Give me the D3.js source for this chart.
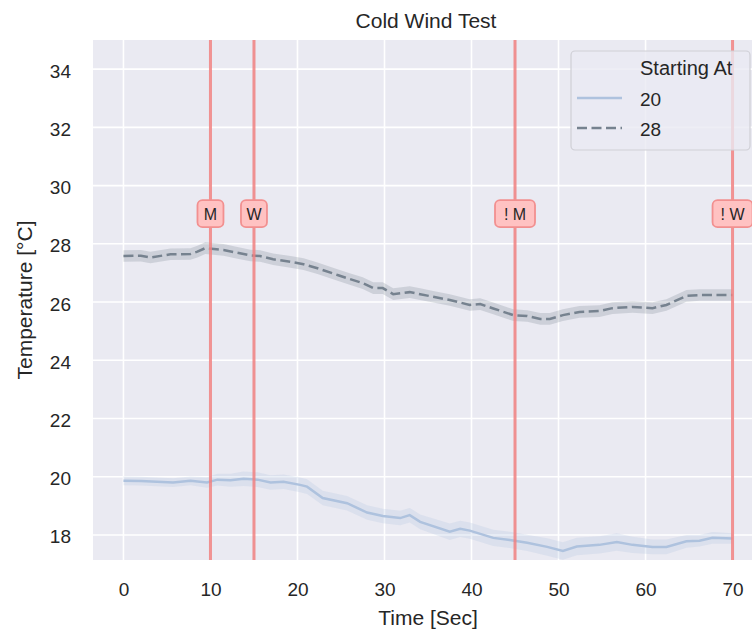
<!DOCTYPE html>
<html>
<head>
<meta charset="utf-8">
<script src="https://cdn.jsdelivr.net/npm/d3@7"></script>
<style>
  body { margin: 0; background: #fff; }
  text { font-family: "Liberation Sans", Arial, sans-serif; fill: #262626; }
</style>
</head>
<body>
<div id="chart"></div>
<script>
// series starting at 28
const time28 = [0, 2, 3.1, 5.4, 7.7, 8.5, 9.4, 11.5, 13.1, 14.6, 15.7, 17.2, 19.2, 20.7, 22.3, 24.6, 26, 27.5, 28.7, 29.8, 31, 32.9,
  34.1, 35.6, 37.5, 39.8, 41, 42.5, 44.1, 44.8, 46.4, 47.9, 49, 50.5, 52.4, 54.7, 56.2, 58.5, 60.8, 62.4, 64.7, 66.2, 70];
const temp28 = [27.58, 27.59, 27.53, 27.64, 27.65, 27.73, 27.85, 27.79, 27.69, 27.6, 27.58, 27.47, 27.38, 27.3, 27.16, 26.93, 26.79, 26.65, 26.48, 26.48, 26.27, 26.34,
  26.27, 26.18, 26.07, 25.9, 25.93, 25.78, 25.62, 25.55, 25.52, 25.42, 25.42, 25.55, 25.66, 25.69, 25.79, 25.83, 25.79, 25.9, 26.21, 26.24, 26.24];
const ci28 = 0.2;

// series starting at 20
const time20 = [0, 2, 5.7, 7.7, 9.6, 10.8, 12.3, 13.8, 15.4, 16.9, 18.4, 20.3, 21.1, 22.9, 25.7, 28, 29.8, 31.8, 32.9, 34.1,
  37.5, 38.7, 39.8, 42.5, 44.4, 46.4, 48.7, 50.5, 52.1, 54.7, 56.7, 58.5, 60.8, 62.4, 64.7, 66.2, 67.7, 70];
const temp20 = [19.86, 19.85, 19.8, 19.86, 19.8, 19.9, 19.88, 19.93, 19.9, 19.8, 19.83, 19.72, 19.66, 19.27, 19.09, 18.77, 18.65, 18.58, 18.68, 18.45,
  18.11, 18.21, 18.15, 17.9, 17.83, 17.73, 17.59, 17.45, 17.6, 17.66, 17.76, 17.66, 17.59, 17.59, 17.78, 17.8, 17.9, 17.88];
const ci20 = [0.15, 0.15, 0.15, 0.15, 0.18, 0.2, 0.22, 0.25, 0.25, 0.25, 0.25, 0.25, 0.25, 0.25, 0.25, 0.25, 0.25, 0.25, 0.25, 0.25,
  0.28, 0.28, 0.28, 0.28, 0.28, 0.28, 0.3, 0.3, 0.3, 0.3, 0.3, 0.28, 0.25, 0.25, 0.22, 0.2, 0.2, 0.18];

const markTimes = [10, 15, 45, 70];
const markLabels = ["M", "W", "! M", "! W"];
const markLevel = 29;

const xTicks = [0, 10, 20, 30, 40, 50, 60, 70];
const yTicks = [18, 20, 22, 24, 26, 28, 30, 32, 34];

const W = 752, H = 632;
const plot = { left: 93, right: 763, top: 40, bottom: 560 };

const svg = d3.select("#chart").append("svg").attr("width", W).attr("height", H);

const x = d3.scaleLinear().domain([-3.5, 73.5]).range([plot.left, plot.right]);
const y = d3.scaleLinear().domain([17.14, 35]).range([plot.bottom, plot.top]);

svg.append("defs").append("clipPath").attr("id", "clip")
  .append("rect").attr("x", plot.left).attr("y", plot.top)
  .attr("width", plot.right - plot.left).attr("height", plot.bottom - plot.top);

svg.append("rect").attr("x", plot.left).attr("y", plot.top)
  .attr("width", plot.right - plot.left).attr("height", plot.bottom - plot.top)
  .attr("fill", "#eaeaf2");

//grid
const g = svg.append("g").attr("clip-path", "url(#clip)");
g.selectAll(".gx").data(xTicks).join("line")
  .attr("x1", d => x(d)).attr("x2", d => x(d))
  .attr("y1", plot.top).attr("y2", plot.bottom)
  .attr("stroke", "#fff").attr("stroke-width", 1.6);
g.selectAll(".gy").data(yTicks).join("line")
  .attr("x1", plot.left).attr("x2", plot.right)
  .attr("y1", d => y(d)).attr("y2", d => y(d))
  .attr("stroke", "#fff").attr("stroke-width", 1.6);

// axes
const xAxis = svg.append("g").attr("transform", `translate(0,${plot.bottom})`)
  .call(d3.axisBottom(x).tickValues(xTicks).tickSize(0).tickPadding(24));
const yAxis = svg.append("g").attr("transform", `translate(${plot.left},0)`)
  .call(d3.axisLeft(y).tickValues(yTicks).tickSize(0).tickPadding(22));
[xAxis, yAxis].forEach(a => {
  a.select(".domain").remove();
  a.selectAll("text").attr("font-size", 19).attr("font-family", "Liberation Sans, Arial, sans-serif").attr("fill", "#262626");
});
xAxis.selectAll("text").attr("dy", "0.62em");
yAxis.selectAll("text").attr("dy", "0.42em");

// bands and lines
const series = [
  { t: time20, v: temp20, ci: (i) => ci20[i], color: "#aec2de", dash: null, width: 2.5 },
  { t: time28, v: temp28, ci: () => ci28, color: "#76828f", dash: "10,4.5", width: 2.5 }
];
series.forEach(s => {
  const pts = s.t.map((t, i) => ({ t, v: s.v[i], c: s.ci(i) }));
  g.append("path").datum(pts)
    .attr("d", d3.area().x(d => x(d.t)).y0(d => y(d.v - d.c)).y1(d => y(d.v + d.c)))
    .attr("fill", s.color).attr("opacity", 0.25);
  g.append("path").datum(pts)
    .attr("d", d3.line().x(d => x(d.t)).y(d => y(d.v)))
    .attr("fill", "none").attr("stroke", s.color)
    .attr("stroke-width", s.width).attr("stroke-dasharray", s.dash);
});

// event markers
g.selectAll(".vl").data(markTimes).join("line")
  .attr("x1", d => x(d)).attr("x2", d => x(d))
  .attr("y1", plot.top).attr("y2", plot.bottom)
  .attr("stroke", "#f08080").attr("stroke-opacity", 0.85).attr("stroke-width", 3);

markTimes.forEach((t, i) => {
  const lbl = markLabels[i];
  const bw = lbl.length > 1 ? 40 : 26;
  const cx = x(t), cy = y(markLevel) - 1;
  svg.append("rect").attr("x", cx - bw / 2).attr("y", cy - 13.5)
    .attr("width", bw).attr("height", 27).attr("rx", 5)
    .attr("fill", "#ffc2c2").attr("stroke", "#f29090").attr("stroke-width", 1.8);
  svg.append("text").attr("x", cx).attr("y", cy + 6)
    .attr("text-anchor", "middle").attr("font-size", 16).text(lbl);
});

// title and labels
svg.append("text").attr("x", (plot.left + plot.right) / 2 - 2).attr("y", 28)
  .attr("text-anchor", "middle").attr("font-size", 21).text("Cold Wind Test");
svg.append("text").attr("x", (plot.left + plot.right) / 2).attr("y", 625)
  .attr("text-anchor", "middle").attr("font-size", 21).text("Time [Sec]");
svg.append("text").attr("transform", `translate(32,${(plot.top + plot.bottom) / 2}) rotate(-90)`)
  .attr("text-anchor", "middle").attr("font-size", 21).text("Temperature [°C]");

// legend
const lg = svg.append("g");
lg.append("rect").attr("x", 571).attr("y", 51).attr("width", 179).attr("height", 99).attr("rx", 4)
  .attr("fill", "#eaeaf2").attr("fill-opacity", 0.8).attr("stroke", "#cfcfd6").attr("stroke-width", 1.2);
lg.append("text").attr("x", 640).attr("y", 75).attr("font-size", 20).text("Starting At");
[["20", series[0]], ["28", series[1]]].forEach(([name, s], i) => {
  const ly = 98 + i * 30;
  lg.append("line").attr("x1", 577).attr("x2", 622).attr("y1", ly).attr("y2", ly)
    .attr("stroke", s.color).attr("stroke-width", s.width).attr("stroke-dasharray", s.dash);
  lg.append("text").attr("x", 640).attr("y", ly + 8).attr("font-size", 19).text(name);
});
</script>
</body>
</html>
